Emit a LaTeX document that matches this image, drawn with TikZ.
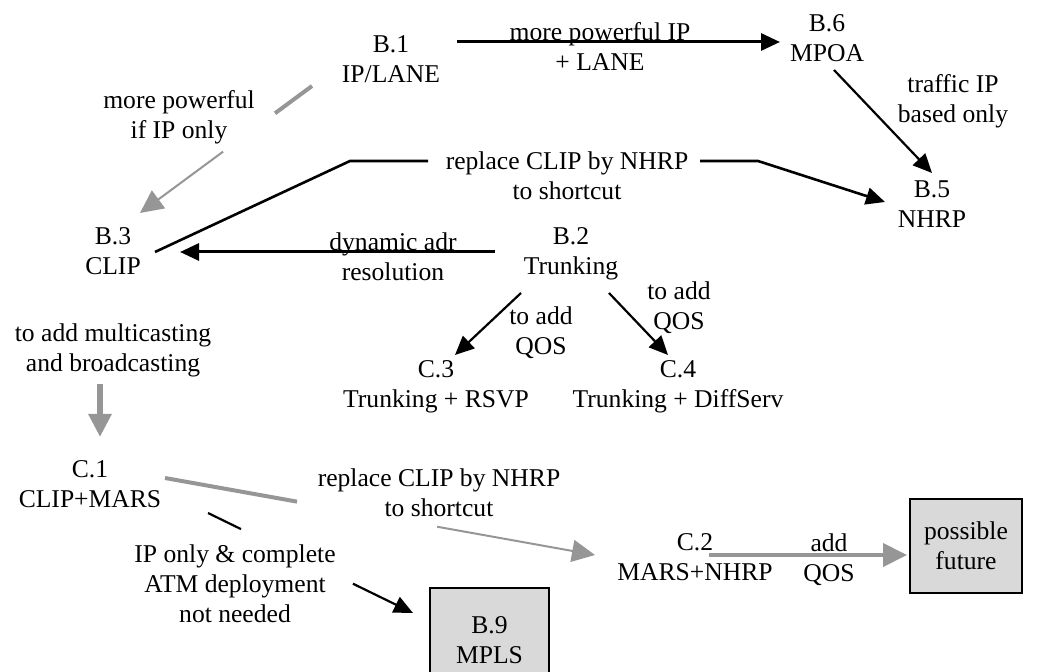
\documentclass[tikz,border=0pt]{standalone}
\usepackage{fontspec}
\setmainfont{Liberation Serif}
\usetikzlibrary{arrows.meta}
\definecolor{linegrey}{RGB}{150,150,150}
\definecolor{boxgrey}{RGB}{217,217,217}

\begin{document}
\begin{tikzpicture}[x=0.5pt,y=-0.5pt]
    \tikzset { every node/.style = { font=\fontsize{12.8pt}{15pt}\selectfont, align=center, inner sep=2pt } }
    \tikzset { boxed/.style = { shape=rectangle, draw, line width=1.2pt, fill=boxgrey } }
    \tikzset { edge/.style = { ->, > = {Triangle[length=9.5pt,width=8.5pt]}, line width=1.1pt } }
    \tikzset { greyedge/.style = { ->, draw=linegrey, > = {Triangle[length=11.5pt,width=11pt]}, line width=1pt } }
    \tikzset { link/.style = { line width=1.1pt } }

    \useasboundingbox (0,0) rectangle (1048,672);

    % stages
    \node (b1) at (391,59) {B.1\\IP/LANE};
    \node (b6) at (827,38) {B.6\\MPOA};
    \node (b5) at (932,204) {B.5\\NHRP};
    \node (b3) at (113,251) {B.3\\CLIP};
    \node (b2) at (571,254) {B.2\\Trunking};
    \node (c3) at (436,387) {C.3\\Trunking + RSVP};
    \node (c4) at (678,387) {C.4\\Trunking + DiffServ};
    \node (c1) at (90,484) {C.1\\CLIP+MARS};
    \node (c2) at (695,557) {C.2\\MARS+NHRP};
    \node[boxed, minimum width=56pt, minimum height=47pt] (fut) at (966,546) {possible\\future};
    \node[boxed, minimum width=59.5pt, minimum height=52pt] (b9) at (489.5,640) {B.9\\MPLS};

    % labels
    \node (lb1b6) at (600,46) {more powerful IP\\+ LANE};
    \node (lb1b3) at (179,117) {more powerful\\if IP only};
    \node (lb3b5) at (567,176) {replace CLIP by NHRP\\to shortcut};
    \node (lb6b5) at (953,101) {traffic IP\\based only};
    \node (lb2b3) at (393,257) {dynamic adr\\resolution};
    \node (lb2c3) at (541,333) {to add\\QOS};
    \node (lb2c4) at (679,308) {to add\\QOS};
    \node (lb3c1) at (113,350) {to add multicasting\\and broadcasting};
    \node (lc1c2) at (439,493) {replace CLIP by NHRP\\to shortcut};
    \node (lc1b9) at (235,584) {IP only \& complete\\ATM deployment\\not needed};
    \node (lc2fut) at (829,560) {add\\QOS};

    % connectors
    \draw[edge, line width=1.5pt] ([shift={(66,-17)}]b1.center) -- ([shift={(-47,4)}]b6.center);

    \path ([shift={(-79,27)}]b1.center) -- coordinate[pos=0.215] (g1) coordinate[pos=0.517] (g2) ([shift={(27,-38)}]b3.center);
    \draw[linegrey, line width=2pt] ([shift={(-79,27)}]b1.center) -- (g1);
    \draw[greyedge] (g2) -- ([shift={(27,-38)}]b3.center);

    \coordinate (k1) at (350,161);
    \coordinate (k2) at (758,161);
    \draw[link, line width=1.3pt] ([shift={(42,1)}]b3.center) -- (k1) -- ([shift={(-139,-15)}]lb3b5.center);
    \draw[edge, line width=1.3pt] ([shift={(133,-15)}]lb3b5.center) -- (k2) -- ([shift={(-47,-2)}]b5.center);

    \draw[edge] ([shift={(7,32)}]b6.center) -- ([shift={(0,-31)}]b5.center);
    \draw[edge, line width=1.5pt] ([shift={(-76,-2)}]b2.center) -- ([shift={(67,1)}]b3.center);
    \draw[edge] ([shift={(-50,39)}]b2.center) -- ([shift={(19,-32)}]c3.center);
    \draw[edge] ([shift={(38,39)}]b2.center) -- ([shift={(-10,-32)}]c4.center);

    \draw[greyedge, line width=3pt] ([shift={(-13,34)}]lb3c1.center) -- ([shift={(10,-47)}]c1.center);

    \path ([shift={(75,-6)}]c1.center) -- coordinate[pos=0.307] (h1) coordinate[pos=0.633] (h2) ([shift={(-100,-2)}]c2.center);
    \draw[linegrey, line width=2pt] ([shift={(75,-6)}]c1.center) -- (h1);
    \draw[greyedge] (h2) -- ([shift={(-100,-2)}]c2.center);

    \path ([shift={(118,29)}]c1.center) -- coordinate[pos=0.161] (m1) coordinate[pos=0.707] (m2) ([shift={(-76.5,-27)}]b9.center);
    \draw[link] ([shift={(118,29)}]c1.center) -- (m1);
    \draw[edge] (m2) -- ([shift={(-76.5,-27)}]b9.center);

    \draw[greyedge, line width=2pt, > = {Triangle[length=12pt,width=11.5pt]}] ([shift={(14,-2)}]c2.center) -- ([shift={(-59,9)}]fut.center);
\end{tikzpicture}
\end{document}
